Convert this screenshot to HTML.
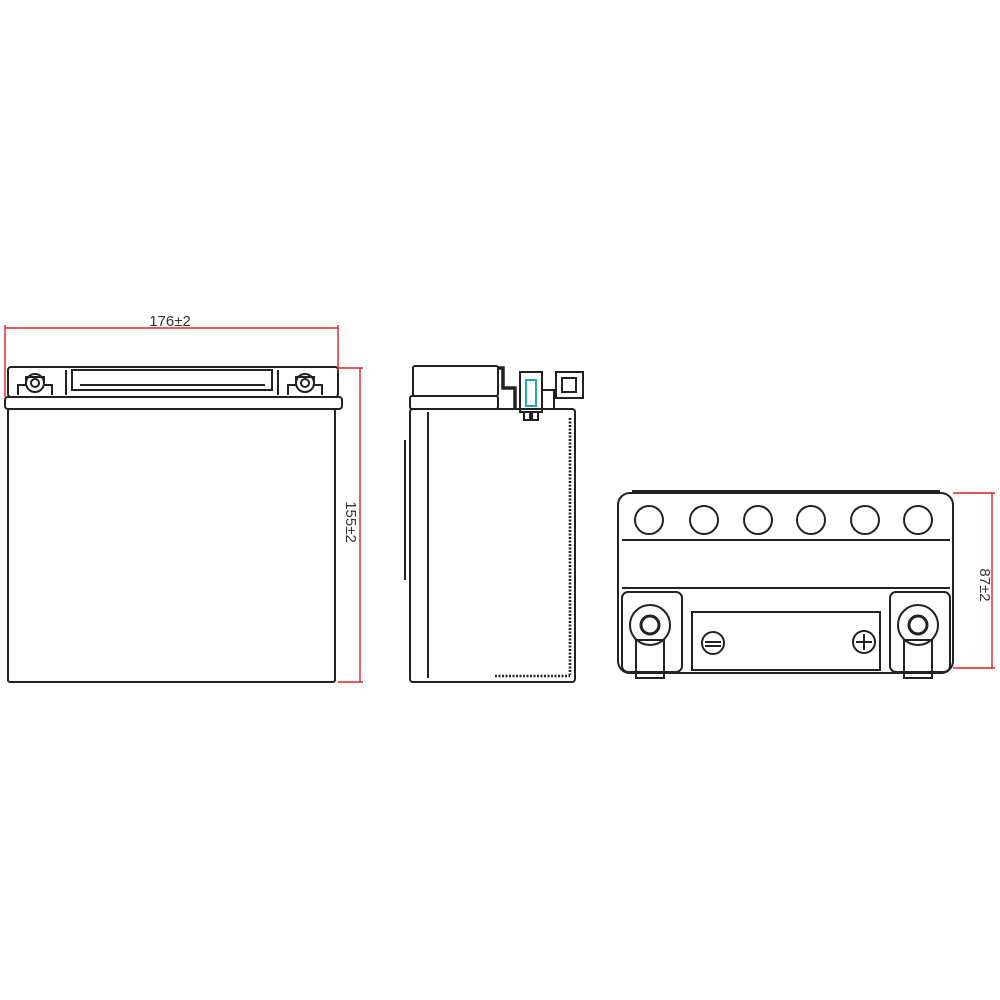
<!DOCTYPE html>
<html><head><style>body{margin:0;background:#fff}svg{display:block}</style></head><body>
<svg width="1000" height="1000" viewBox="0 0 1000 1000" xmlns="http://www.w3.org/2000/svg" font-family="Liberation Sans, sans-serif">
<g fill="none" stroke="#222" stroke-width="2">
<!-- front view -->
<rect x="8" y="367" width="330" height="30" rx="3"/>
<rect x="72" y="370" width="200" height="20"/>
<line x1="80" y1="385" x2="265" y2="385"/>
<line x1="66" y1="370" x2="66" y2="395"/><line x1="278" y1="370" x2="278" y2="395"/>
<rect x="5" y="397" width="337" height="12" rx="3"/>
<rect x="8" y="409" width="327" height="273" rx="2"/>
<path d="M18 395v-10h8v-8h18v8h8v10"/>
<circle cx="35" cy="383" r="9"/><circle cx="35" cy="383" r="4"/>
<path d="M288 395v-10h8v-8h18v8h8v10"/>
<circle cx="305" cy="383" r="9"/><circle cx="305" cy="383" r="4"/>
<!-- side view -->
<rect x="413" y="366" width="85" height="30" rx="2"/>
<rect x="410" y="396" width="88" height="13" rx="2"/>
<rect x="410" y="409" width="165" height="273" rx="3"/>
<line x1="428" y1="412" x2="428" y2="678"/>
<line x1="405" y1="440" x2="405" y2="580"/>
<line x1="570" y1="418" x2="570" y2="675" stroke-dasharray="2 1.5" stroke-width="2.6"/>
<line x1="495" y1="676" x2="570" y2="676" stroke-dasharray="2 1.5" stroke-width="2.6"/>
<path d="M498 368h5v20h12v22" stroke-width="3.5"/>
<rect x="520" y="372" width="22" height="40"/>
<rect x="526" y="380" width="10" height="26" stroke="#2aa" stroke-width="2"/>
<path d="M524 412v8h6v-8M532 412v8h6v-8"/>
<path d="M542 390h12v20"/>
<rect x="556" y="372" width="27" height="26"/>
<rect x="562" y="378" width="14" height="14"/>
<!-- top view -->
<rect x="618" y="493" width="335" height="180" rx="12"/>
<line x1="632" y1="491" x2="940" y2="491"/>
<line x1="622" y1="540" x2="950" y2="540"/>
<line x1="622" y1="588" x2="950" y2="588"/>
<circle cx="649" cy="520" r="14"/><circle cx="704" cy="520" r="14"/><circle cx="758" cy="520" r="14"/>
<circle cx="811" cy="520" r="14"/><circle cx="865" cy="520" r="14"/><circle cx="918" cy="520" r="14"/>
<rect x="622" y="592" width="60" height="80" rx="6"/>
<rect x="890" y="592" width="60" height="80" rx="6"/>
<circle cx="650" cy="625" r="20"/><circle cx="650" cy="625" r="9" stroke-width="3"/>
<circle cx="918" cy="625" r="20"/><circle cx="918" cy="625" r="9" stroke-width="3"/>
<rect x="636" y="640" width="28" height="38"/>
<rect x="904" y="640" width="28" height="38"/>
<rect x="692" y="612" width="188" height="58"/>
<circle cx="713" cy="643" r="11"/><line x1="705" y1="642" x2="721" y2="642"/><line x1="705" y1="646" x2="721" y2="646"/>
<circle cx="864" cy="642" r="11"/><line x1="856" y1="642" x2="872" y2="642"/><line x1="864" y1="634" x2="864" y2="650"/>
</g>
<g fill="none" stroke="#d22" stroke-width="1.4">
<line x1="5" y1="328" x2="338" y2="328"/>
<line x1="5" y1="325" x2="5" y2="397"/><line x1="338" y1="325" x2="338" y2="372"/>
<line x1="338" y1="368" x2="363" y2="368"/><line x1="338" y1="682" x2="363" y2="682"/>
<line x1="360" y1="368" x2="360" y2="682"/>
<line x1="953" y1="493" x2="995" y2="493"/><line x1="953" y1="668" x2="995" y2="668"/>
<line x1="992" y1="493" x2="992" y2="668"/>
</g>
<g fill="#333" font-size="15">
<text x="170" y="326" text-anchor="middle">176±2</text>
<text transform="translate(346,522) rotate(90)" text-anchor="middle">155±2</text>
<text transform="translate(980,585) rotate(90)" text-anchor="middle">87±2</text>
</g>
</svg>
</body></html>
